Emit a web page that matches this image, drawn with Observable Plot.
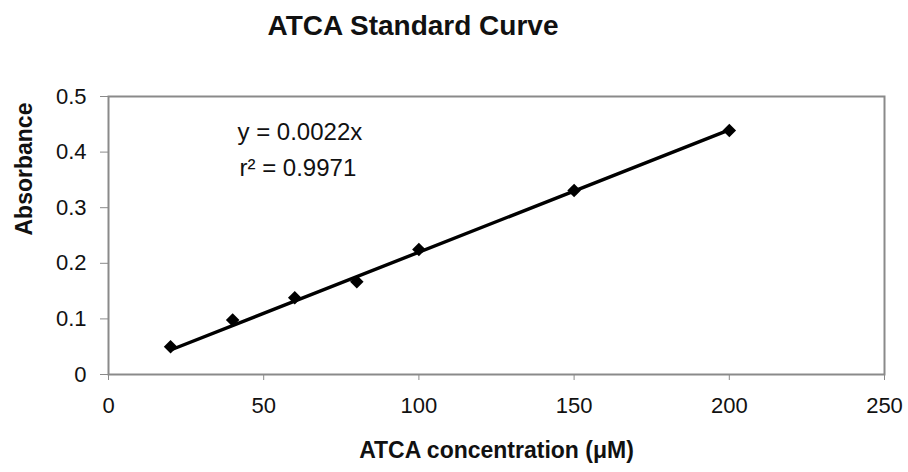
<!DOCTYPE html>
<html>
<head>
<meta charset="utf-8">
<script src="https://cdn.jsdelivr.net/npm/d3@7"></script>
<script src="https://cdn.jsdelivr.net/npm/@observablehq/plot@0.6"></script>
<style>
  html, body { margin: 0; padding: 0; background: #fff; }
  #title { width: 908px; height: 56px; font: bold 28px "Liberation Sans", Arial, sans-serif; color: #111; position: relative; }
  #title span { position: absolute; left: 413px; top: 10px; transform: translateX(-50%); white-space: nowrap; }
  svg { display: block; }
</style>
</head>
<body>
<div id="title"><span>ATCA Standard Curve</span></div>
<div id="chart"></div>
<script>
// Data
const concentration = [20, 40, 60, 80, 100, 150, 200];
const absorbance = [0.050, 0.098, 0.138, 0.167, 0.225, 0.331, 0.439];
const slope = 0.0022;
const rSquared = 0.9971;
const xTicks = [0, 50, 100, 150, 200, 250];
const yTicks = [0, 0.1, 0.2, 0.3, 0.4, 0.5];
const yTickLabels = ["0", "0.1", "0.2", "0.3", "0.4", "0.5"];
const xTitle = "ATCA concentration (\u03BCM)";
const yTitle = "Absorbance";
const equationText = `y = ${slope}x`;
const rSquaredText = `r\u00B2 = ${rSquared}`;

const points = concentration.map((c, i) => ({x: c, y: absorbance[i]}));
const trendX = [d3.min(concentration), d3.max(concentration)];
const trend = trendX.map(x => ({x, y: slope * x}));

const font = "'Liberation Sans', Arial, sans-serif";

const chart = Plot.plot({
  width: 908,
  height: 416,
  marginTop: 40,
  marginBottom: 98,
  marginLeft: 108,
  marginRight: 24,
  style: {fontFamily: font, color: "#111", background: "#fff"},
  x: {domain: [0, 250], ticks: xTicks},
  y: {domain: [0, 0.5], ticks: yTicks},
  marks: [
    Plot.frame({stroke: "#8a8a8a", strokeWidth: 2}),
    Plot.axisY({ticks: yTicks, tickFormat: (d, i) => yTickLabels[i], tickSize: 8, tickPadding: 14, fontSize: 22, stroke: "#8a8a8a", label: null}),
    Plot.axisX({ticks: xTicks, tickFormat: d => String(d), tickSize: 6, tickPadding: 17, fontSize: 22, stroke: "#8a8a8a", label: null}),
    Plot.line(trend, {x: "x", y: "y", stroke: "#000", strokeWidth: 3.4}),
    Plot.dot(points, {x: "x", y: "y", symbol: "square", r: 5.4, rotate: 45, fill: "#000", stroke: "none"}),
    Plot.text([equationText], {frameAnchor: "top-left", text: d => d, dx: 129, dy: 26, textAnchor: "start", fontSize: 24, fill: "#111"}),
    Plot.text([rSquaredText], {frameAnchor: "top-left", text: d => d, dx: 131, dy: 62, textAnchor: "start", fontSize: 24, fill: "#111"}),
    Plot.text([xTitle], {frameAnchor: "bottom", text: d => d, dy: 83, fontSize: 23, fontWeight: "bold", fill: "#111"}),
    Plot.text([yTitle], {frameAnchor: "left", text: d => d, dx: -84, rotate: -90, fontSize: 23, fontWeight: "bold", fill: "#111"})
  ]
});
document.getElementById("chart").appendChild(chart);
</script>
</body>
</html>
